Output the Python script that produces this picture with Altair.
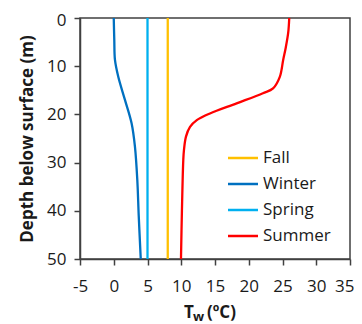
import altair as alt
import pandas as pd

seasons = ["Fall", "Winter", "Spring", "Summer"]
colors = ["#FFC000", "#0070C0", "#00B0F0", "#FF0000"]

fall_depth = [0, 50]
fall_temp = [8, 8]

spring_depth = [0, 50]
spring_temp = [5, 5]

winter_depth = [0, 4.6, 8.7, 12.2, 17.0, 21.9, 26.7, 33.6, 41.0, 50]
winter_temp = [0.0, 0.08, 0.18, 0.67, 1.66, 2.65, 3.14, 3.49, 3.7, 4.0]

summer_depth = [0, 3, 6, 8.7, 12.2, 14.6, 15.6, 17.7, 19.8, 21.2, 22.6, 24.6, 27.4, 29.5, 40, 50]
summer_temp = [26.0, 25.85, 25.5, 25.1, 24.6, 23.6, 22.1, 18.2, 14.25, 12.3, 11.3, 10.7, 10.4, 10.3, 10.1, 9.96]

x_ticks = [-5, 0, 5, 10, 15, 20, 25, 30, 35]
y_ticks = [0, 10, 20, 30, 40, 50]

rows = []
for name, ds, ts in [("Fall", fall_depth, fall_temp), ("Winter", winter_depth, winter_temp),
                     ("Spring", spring_depth, spring_temp), ("Summer", summer_depth, summer_temp)]:
    for i, (d, t) in enumerate(zip(ds, ts)):
        rows.append({"season": name, "depth": d, "temp": t, "idx": i})
df = pd.DataFrame(rows)

FONT = "Open Sans"
TXT = "#1a1a1a"
AX = "#404040"

lines = alt.Chart(df).mark_line(strokeWidth=2.3, interpolate="catmull-rom").encode(
    x=alt.X("temp:Q", scale=alt.Scale(domain=[-5, 35], nice=False),
            axis=alt.Axis(values=x_ticks, title=None, grid=False,
                          tickSize=6, labelPadding=13, labelFontSize=17, labelFont=FONT,
                          labelColor=TXT, domainColor=AX, tickColor=AX,
                          domainWidth=1.5, tickWidth=1.5, labelFlush=False,
                          labelAlign={"condition": {"test": "datum.value == 35", "value": "right"},
                                      "value": "center"},
                          labelOffset={"condition": {"test": "datum.value == 35", "value": 4},
                                       "value": 0},
                          labelExpr="datum.value < 0 ? '-' + abs(datum.value) : '' + datum.value")),
    y=alt.Y("depth:Q", scale=alt.Scale(domain=[0, 50], reverse=True, nice=False),
            axis=alt.Axis(values=y_ticks, title="Depth below surface (m)",
                          grid=False, tickSize=6, labelPadding=8, labelFontSize=17,
                          labelFont=FONT, labelColor=TXT, titleFont=FONT, titleFontSize=17,
                          titleFontWeight="bold", titleColor=TXT, titlePadding=10,
                          domainColor=AX, tickColor=AX, domainWidth=1.5,
                          tickWidth=1.5, labelFlush=False,
                          labelOffset={"condition": {"test": "datum.value == 0", "value": 2},
                                       "value": 0})),
    color=alt.Color("season:N", scale=alt.Scale(domain=seasons, range=colors),
                    legend=alt.Legend(title=None, orient="none", legendX=154, legendY=131,
                                      symbolType="M-2,0L2,0", symbolStrokeWidth=2.5,
                                      symbolSize=225, labelFontSize=17, labelFont=FONT,
                                      labelColor=TXT, labelOffset=11, rowPadding=9)),
    order="idx:Q",
    detail="season:N",
)

title_t = alt.Chart(pd.DataFrame({"t": ["T"]})).mark_text(
    align="left", baseline="alphabetic", font=FONT, fontSize=17, fontWeight="bold", color=TXT
).encode(text="t:N", x=alt.value(104), y=alt.value(300))
title_w = alt.Chart(pd.DataFrame({"t": ["w"]})).mark_text(
    align="left", baseline="alphabetic", font=FONT, fontSize=13, fontWeight="bold", color=TXT
).encode(text="t:N", x=alt.value(113), y=alt.value(303))
title_c = alt.Chart(pd.DataFrame({"t": ["(ºC)"]})).mark_text(
    align="left", baseline="alphabetic", font=FONT, fontSize=17, fontWeight="bold", color=TXT
).encode(text="t:N", x=alt.value(127), y=alt.value(300))

chart = alt.layer(lines, title_t, title_w, title_c).properties(
    width=270, height=241, autosize="none",
    padding={"left": 72, "top": 10, "right": 4, "bottom": 65},
    background="white",
).configure_view(stroke=AX, strokeWidth=1.5)

chart.save("out.html", embed_options={"renderer": "svg", "actions": False})
